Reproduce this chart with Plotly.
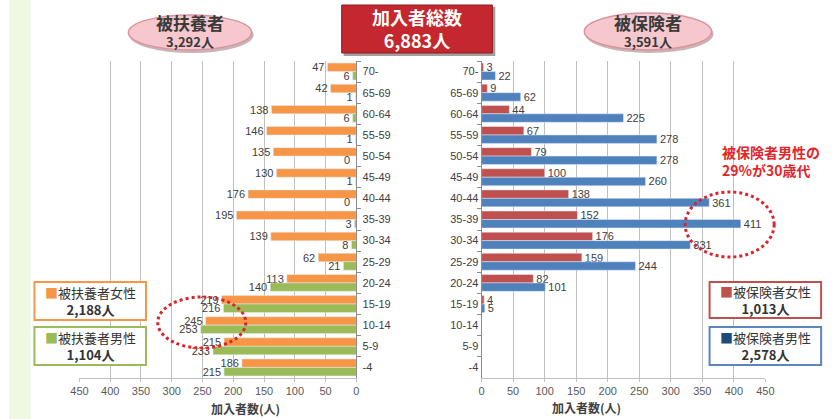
import plotly.graph_objects as go

# ---------------- data ----------------
age_groups = ["70-", "65-69", "60-64", "55-59", "50-54", "45-49", "40-44", "35-39",
              "30-34", "25-29", "20-24", "15-19", "10-14", "5-9", "-4"]
dep_female = [47, 42, 138, 146, 135, 130, 176, 195, 139, 62, 113, 219, 245, 215, 186]
dep_male = [6, 1, 6, 1, 0, 1, 0, 3, 8, 21, 140, 216, 253, 233, 215]
ins_female = [3, 9, 44, 67, 79, 100, 138, 152, 176, 159, 82, 4, 0, 0, 0]
ins_male = [22, 62, 225, 278, 278, 260, 361, 411, 331, 244, 101, 5, 0, 0, 0]
x_ticks = [0, 50, 100, 150, 200, 250, 300, 350, 400, 450]

W, H = 836, 419
def px(x):
    return x / W
def py(y):
    return 1 - y / H

C_OR = "#f79646"
C_GR = "#9bbb59"
C_RD = "#c0504d"
C_BL = "#4f81bd"
TXT = "#404040"
FONT_L = "Arial, Liberation Sans, sans-serif"
FONT_J = "Noto Sans CJK JP, sans-serif"

fig = go.Figure()

lab_font = dict(family=FONT_L, size=11, color=TXT)

def bar(vals, color, xa, ya, name):
    return go.Bar(y=age_groups, x=vals, orientation="h", marker_color=color,
                  text=[str(v) if v else "" for v in vals], textposition="outside",
                  textfont=lab_font, constraintext="none", cliponaxis=False,
                  xaxis=xa, yaxis=ya, name=name)

fig.add_trace(bar(dep_female, C_OR, "x", "y", "被扶養者女性"))
fig.add_trace(bar(dep_male, C_GR, "x", "y", "被扶養者男性"))
fig.add_trace(bar(ins_female, C_RD, "x2", "y2", "被保険者女性"))
fig.add_trace(bar(ins_male, C_BL, "x2", "y2", "被保険者男性"))

y_dom = [py(378), py(61)]
xcommon = dict(tickvals=x_ticks, ticktext=[str(t) for t in x_ticks], showgrid=True,
               gridcolor="#bfbfbf", gridwidth=1, zeroline=False, showline=True,
               linecolor="#bfbfbf", ticks="outside", ticklen=3, tickcolor="#bfbfbf",
               tickfont=dict(family=FONT_L, size=11, color="#595959"), fixedrange=True)
ycommon = dict(type="category", categoryorder="array", categoryarray=age_groups,
               autorange="reversed", showgrid=False, showline=True, linecolor="#8c8c8c",
               ticks="outside", ticklen=4, tickcolor="#8c8c8c", tickson="boundaries",
               tickfont=dict(family=FONT_L, size=11, color=TXT), domain=y_dom, fixedrange=True)

fig.update_layout(
    width=W, height=H, margin=dict(l=0, r=0, t=0, b=0),
    paper_bgcolor="white", plot_bgcolor="rgba(0,0,0,0)",
    showlegend=False, barmode="group", bargap=0.2, bargroupgap=0,
    xaxis=dict(domain=[px(72), px(355)], range=[450, 0], anchor="y", **xcommon),
    yaxis=dict(anchor="x", side="right", ticklabelstandoff=3, **ycommon),
    xaxis2=dict(domain=[px(483), px(773)], range=[0, 450], anchor="y2", **xcommon),
    yaxis2=dict(anchor="x2", side="left", **ycommon),
)

shapes = []
shapes.append(dict(type="rect", xref="paper", yref="paper", x0=0, x1=px(22), y0=0, y1=1,
                   fillcolor="#eff9e2", line=dict(width=0), layer="below"))

for (x0, x1, y0, y1) in [(122, 248, 15, 50), (588, 718, 13, 50)]:
    shapes.append(dict(type="circle", xref="paper", yref="paper",
                       x0=px(x0 + 1), x1=px(x1 + 2), y0=py(y1 + 3), y1=py(y0 + 2),
                       fillcolor="#c9b4b6", line=dict(width=0)))
    shapes.append(dict(type="circle", xref="paper", yref="paper",
                       x0=px(x0), x1=px(x1), y0=py(y1), y1=py(y0),
                       fillcolor="#f6c8ce", line=dict(color="#d9959e", width=1.5)))

shapes.append(dict(type="rect", xref="paper", yref="paper", x0=px(342), x1=px(497),
                   y0=py(56), y1=py(7), fillcolor="#a0a0a0", line=dict(width=0)))
shapes.append(dict(type="rect", xref="paper", yref="paper", x0=px(340), x1=px(494),
                   y0=py(53), y1=py(5), fillcolor="#c4272d", line=dict(color="#8f1a1e", width=1)))

shapes.append(dict(type="circle", xref="paper", yref="paper", x0=px(152), x1=px(242),
                   y0=py(348), y1=py(297), line=dict(color="#d7262c", width=3, dash="dot")))
shapes.append(dict(type="circle", xref="paper", yref="paper", x0=px(691), x1=px(782),
                   y0=py(257), y1=py(192), line=dict(color="#d7262c", width=3, dash="dot")))

for (x0, x1, y0, y1, col) in [(26, 140, 282, 320, C_OR), (26, 140, 327, 365, C_GR),
                             (716, 830, 282, 318, C_RD), (716, 830, 327, 365, "#5b87bf")]:
    shapes.append(dict(type="rect", xref="paper", yref="paper", x0=px(x0), x1=px(x1),
                       y0=py(y1), y1=py(y0), fillcolor="white", line=dict(color=col, width=2)))

fig.update_layout(shapes=shapes)

ann = []
def add_text(x, y, text, size, color="#333333", family=FONT_J, xanchor="center", align="center"):
    ann.append(dict(xref="paper", yref="paper", x=px(x), y=py(y), text=text, showarrow=False,
                    xanchor=xanchor, yanchor="middle", align=align,
                    font=dict(family=family, size=size, color=color)))

add_text(185, 30, "<b><span style='font-size:17px'>被扶養者</span><br>3,292人</b>", 13, "#3a3a3a")
add_text(653, 30, "<b><span style='font-size:17px'>被保険者</span><br>3,591人</b>", 13, "#3a3a3a")
add_text(417, 29, "<b>加入者総数<br>6,883人</b>", 18, "white")
add_text(727, 161, "<b>被保険者男性の<br>29%が30歳代</b>", 14, "#e3262a", xanchor="left", align="left")

# zero-value labels of the dependents chart (placed left of the axis, like the others)
for cat, v in zip(age_groups, dep_male):
    if v == 0:
        ann.append(dict(xref="x", yref="y", x=v, y=cat, text=str(v), showarrow=False,
                        xanchor="right", yanchor="middle", xshift=-4, yshift=-4,
                        font=lab_font))
for cat, v in zip(age_groups, dep_female):
    if v == 0:
        ann.append(dict(xref="x", yref="y", x=v, y=cat, text=str(v), showarrow=False,
                        xanchor="right", yanchor="middle", xshift=-4, yshift=4,
                        font=lab_font))

def legend_text(cx, cy, sq_col, label, total):
    ann.append(dict(xref="paper", yref="paper", x=px(cx), y=py(cy), showarrow=False,
                    xanchor="center", yanchor="middle", align="center",
                    text=f"<span style='color:{sq_col}'>■</span>{label}<br><b>{total}</b>",
                    font=dict(family=FONT_J, size=13, color="#333333")))

legend_text(83, 301, C_OR, "被扶養者女性", "2,188人")
legend_text(83, 346, C_GR, "被扶養者男性", "1,104人")
legend_text(773, 300, C_RD, "被保険者女性", "1,013人")
legend_text(773, 346, "#1f497d", "被保険者男性", "2,578人")

add_text(242, 408, "<b>加入者数(人)</b>", 12, TXT)
add_text(590, 407, "<b>加入者数(人)</b>", 12, TXT)

fig.update_layout(annotations=ann)

fig.write_html("out.html")
